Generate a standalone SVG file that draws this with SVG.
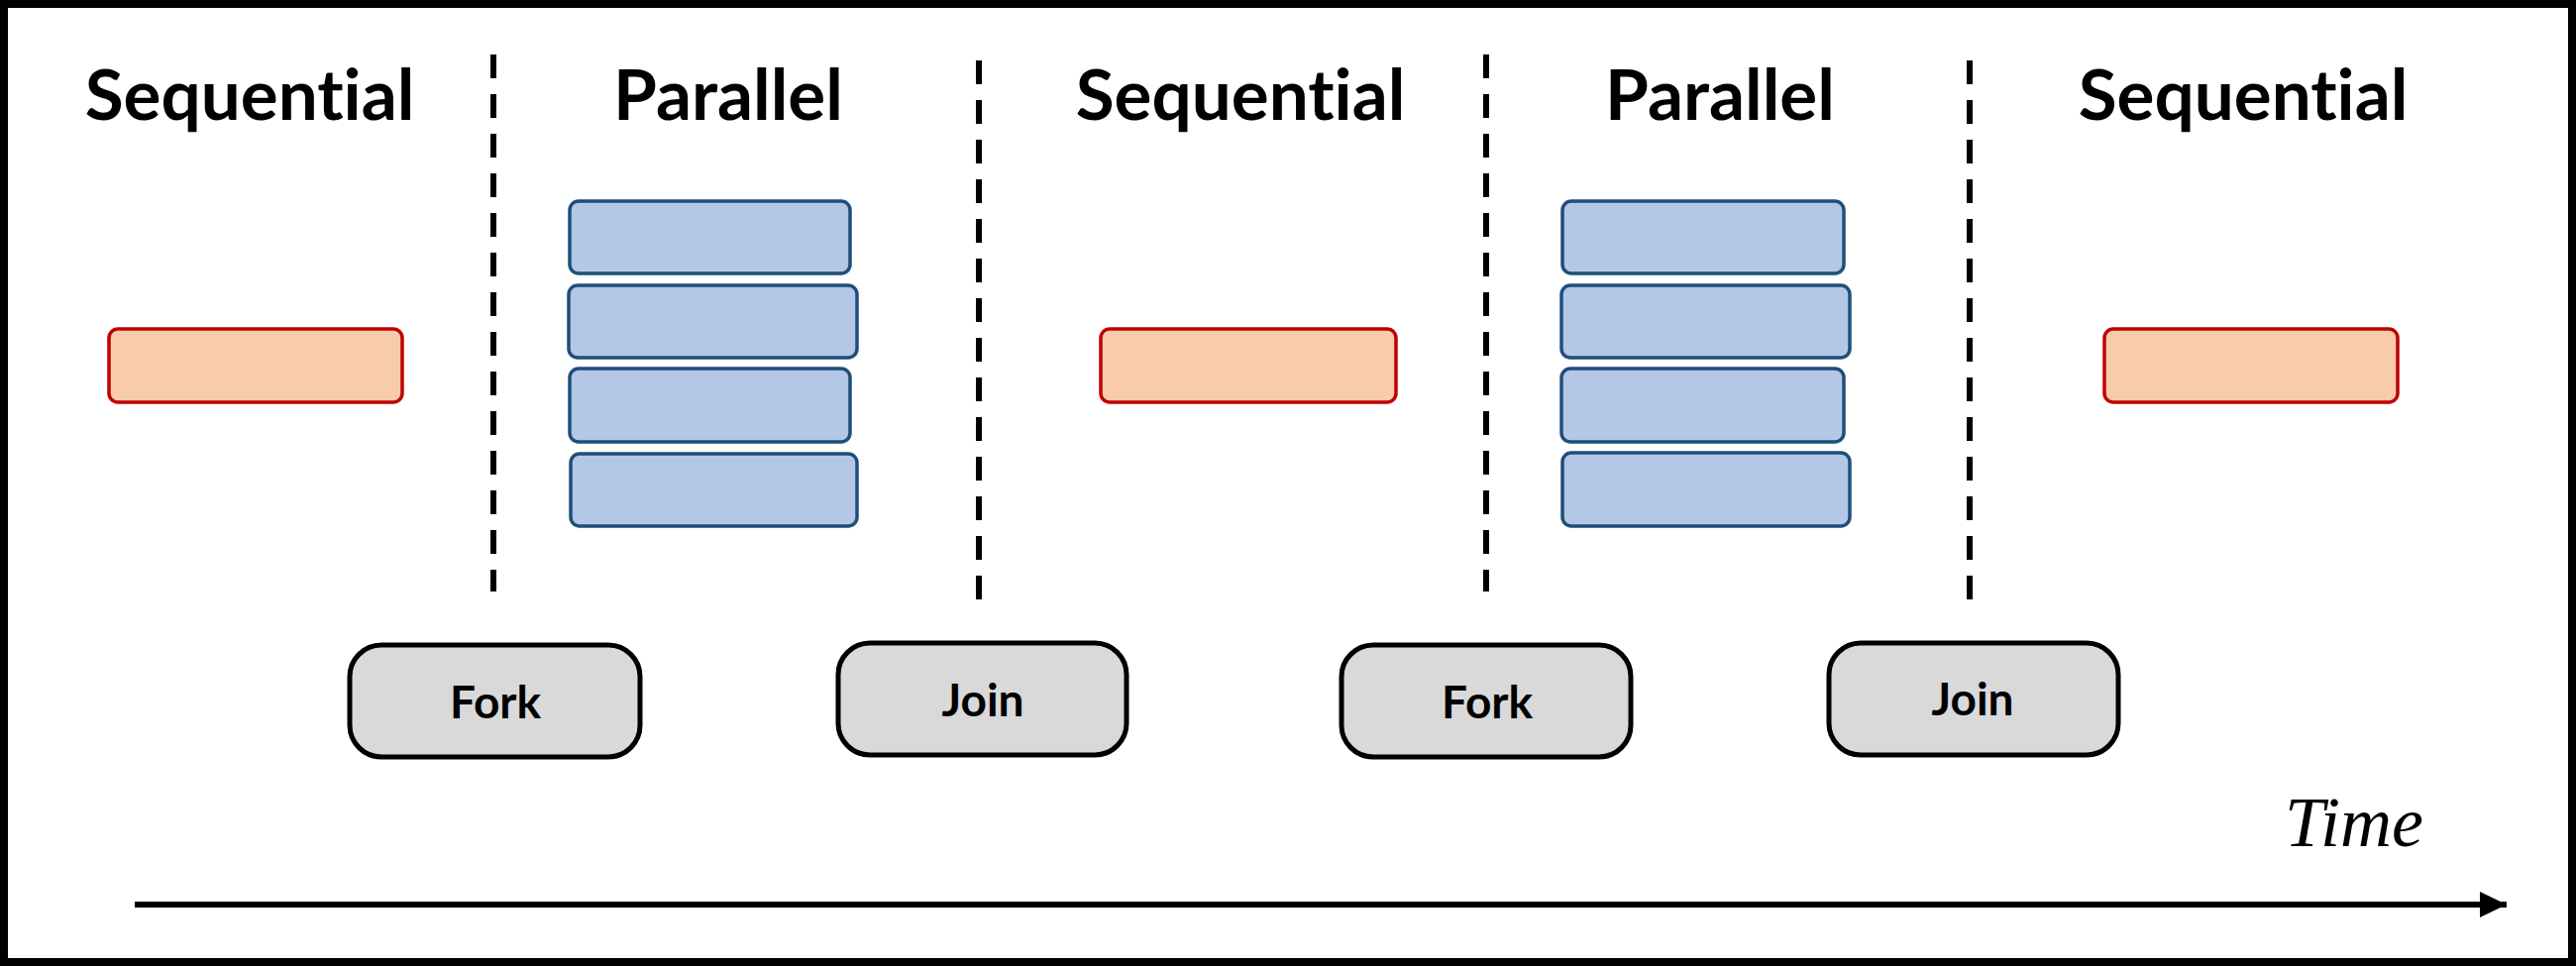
<svg xmlns="http://www.w3.org/2000/svg" width="2600" height="975" viewBox="0 0 2600 975">
<defs>
<style>
.head{font-family:Lato,"Liberation Sans",sans-serif;font-weight:bold;font-size:71px;fill:#000;text-anchor:middle;font-variant-ligatures:none;font-feature-settings:"liga" 0}
.lbl{font-family:Lato,"Liberation Sans",sans-serif;font-weight:bold;font-size:46px;fill:#000;text-anchor:middle}
.seq{fill:#F8CBAD;stroke:#C00000;stroke-width:3.5}
.par{fill:#B4C7E7;stroke:#1F4E79;stroke-width:3.5}
.ctl{fill:#D9D9D9;stroke:#000;stroke-width:5}
.div{stroke:#000;stroke-width:6;stroke-dasharray:24 16;fill:none}
</style>
<marker id="ah" viewBox="0 0 27 26" refX="27" refY="13" markerWidth="27" markerHeight="26" markerUnits="userSpaceOnUse" orient="auto">
<path d="M0,0 L27,13 L0,26 Z" fill="#000"/>
</marker>
</defs>
<rect x="0" y="0" width="2600" height="975" fill="#fff"/>
<rect x="4" y="4" width="2592" height="967" fill="none" stroke="#000" stroke-width="8"/>
<g id="headings">
<text class="head" x="252" y="121">Sequential</text>
<text class="head" x="735" y="121">Parallel</text>
<text class="head" x="1252" y="121">Sequential</text>
<text class="head" x="1736" y="121">Parallel</text>
<text class="head" x="2264" y="121">Sequential</text>
</g>
<g id="dividers">
<line class="div" x1="498" y1="55" x2="498" y2="597"/>
<line class="div" x1="988" y1="61" x2="988" y2="605"/>
<line class="div" x1="1500" y1="55" x2="1500" y2="597"/>
<line class="div" x1="1988" y1="61" x2="1988" y2="605"/>
</g>
<g id="seq1"><rect class="seq" x="110" y="332" width="296" height="74" rx="9"/></g>
<g id="seq2"><rect class="seq" x="1111" y="332" width="298" height="74" rx="9"/></g>
<g id="seq3"><rect class="seq" x="2124" y="332" width="296" height="74" rx="9"/></g>
<g id="par1">
<rect class="par" x="575" y="203" width="283" height="73" rx="9"/>
<rect class="par" x="574" y="288" width="291" height="73" rx="9"/>
<rect class="par" x="575" y="372" width="283" height="74" rx="9"/>
<rect class="par" x="576" y="458" width="289" height="73" rx="9"/>
</g>
<g id="par2">
<rect class="par" x="1577" y="203" width="284" height="73" rx="9"/>
<rect class="par" x="1576" y="288" width="291" height="73" rx="9"/>
<rect class="par" x="1576" y="372" width="285" height="74" rx="9"/>
<rect class="par" x="1577" y="457" width="290" height="74" rx="9"/>
</g>
<g id="fork1"><rect class="ctl" x="353" y="651" width="293" height="113" rx="32"/><text class="lbl" x="500" y="725">Fork</text></g>
<g id="join1"><rect class="ctl" x="846" y="649" width="291" height="113" rx="32"/><text class="lbl" x="992" y="723">Join</text></g>
<g id="fork2"><rect class="ctl" x="1354" y="651" width="292" height="113" rx="32"/><text class="lbl" x="1501" y="725">Fork</text></g>
<g id="join2"><rect class="ctl" x="1846" y="649" width="292" height="113" rx="32"/><text class="lbl" x="1991" y="722">Join</text></g>
<g id="connectors">
<line x1="136" y1="913" x2="2530" y2="913" stroke="#000" stroke-width="6" marker-end="url(#ah)"/>
</g>
<text x="2376" y="854" font-family="'Liberation Serif',serif" font-style="italic" font-size="72" text-anchor="middle" fill="#000">Time</text>
</svg>
